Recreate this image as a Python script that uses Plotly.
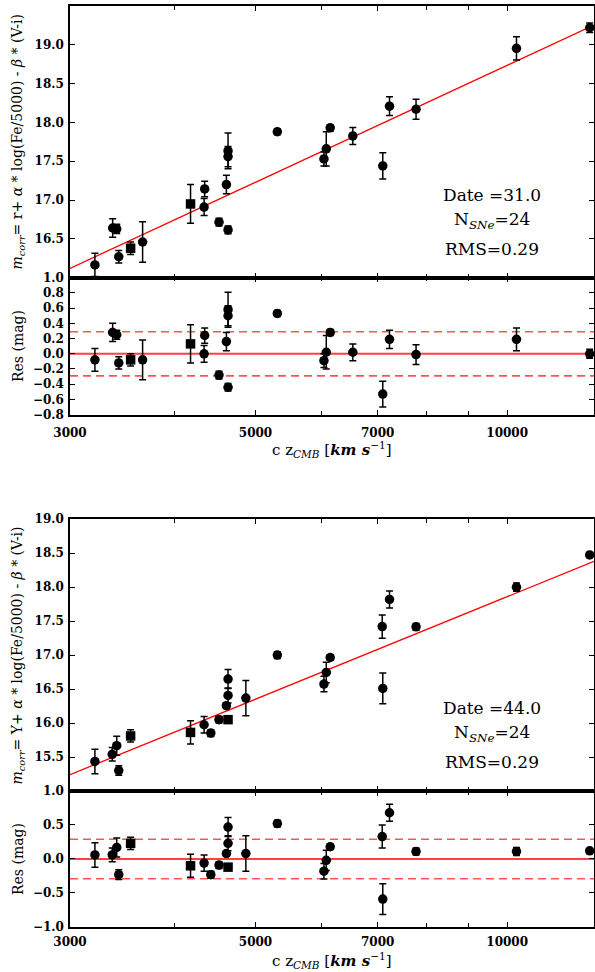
import numpy as np
import plotly.graph_objects as go

# ---------------- data ----------------
top_cz = [3213, 3374, 3412, 3431, 3545, 3664, 4181, 4340, 4347, 4522, 4615, 4636,
          4636, 4636, 5310, 6037, 6076, 6142, 6537, 7099, 7232, 7780, 10259, 12550]
top_m = [16.165, 16.64, 16.63, 16.27, 16.38, 16.46, 16.95, 16.91, 17.144, 16.715, 17.20, 17.633,
         17.56, 16.615, 17.88, 17.53, 17.66, 17.93, 17.826, 17.44, 18.21, 18.17, 18.955, 19.22]
top_err = [0.15, 0.12, 0.06, 0.08, 0.08, 0.26, 0.25, 0.11, 0.10, 0.05, 0.12, 0.23,
           0.13, 0.05, 0.04, 0.09, 0.22, 0.04, 0.11, 0.17, 0.12, 0.13, 0.15, 0.06]
top_res = [-0.08, 0.28, 0.25, -0.12, -0.08, -0.08, 0.13, 0.00, 0.24, -0.28, 0.16, 0.58,
           0.50, -0.44, 0.53, -0.09, 0.02, 0.28, 0.02, -0.53, 0.19, -0.01, 0.19, 0.00]
top_fit_x = [3000, 12700]
top_fit_y = [16.12, 19.255]

bot_cz = [3213, 3370, 3412, 3431, 3545, 4181, 4340, 4421, 4522, 4615, 4636, 4636,
          4636, 4869, 5310, 6037, 6076, 6142, 7088, 7099, 7232, 7780, 10259, 12550]
bot_m = [15.435, 15.54, 15.666, 15.30, 15.81, 15.862, 15.975, 15.853, 16.05, 16.255, 16.406, 16.647,
         16.05, 16.368, 17.00, 16.574, 16.745, 16.965, 17.42, 16.51, 17.82, 17.416, 18.00, 18.475]
bot_err = [0.18, 0.10, 0.14, 0.07, 0.09, 0.17, 0.12, 0.05, 0.05, 0.04, 0.11, 0.14,
           0.04, 0.26, 0.05, 0.115, 0.15, 0.04, 0.17, 0.225, 0.125, 0.05, 0.06, 0.03]
bot_res = [0.06, 0.06, 0.17, -0.23, 0.23, -0.10, -0.06, -0.23, -0.09, 0.08, 0.23, 0.47,
           -0.12, 0.08, 0.52, -0.18, -0.02, 0.18, 0.33, -0.59, 0.68, 0.11, 0.11, 0.12]
bot_fit_x = [3000, 12700]
bot_fit_y = [15.24, 18.38]

rms_band = 0.29
x_ticks = [3000, 5000, 7000, 10000]
x_minor = [4000, 6000, 8000, 9000]
top_y_ticks = [16.5, 17.0, 17.5, 18.0, 18.5, 19.0, 19.5]
top_r_ticks = [-0.8, -0.6, -0.4, -0.2, 0.0, 0.2, 0.4, 0.6, 0.8, 1.0]
bot_y_ticks = [15.5, 16.0, 16.5, 17.0, 17.5, 18.0, 18.5, 19.0]
bot_r_ticks = [-1.0, -0.5, 0.0, 0.5, 1.0]

top_text = ["Date =31.0", "N<sub><i>SNe</i></sub>=24", "RMS=0.29"]
bot_text = ["Date =44.0", "N<sub><i>SNe</i></sub>=24", "RMS=0.29"]

# ---------------- style ----------------
TOP_SQUARES = {4, 6}
BOT_SQUARES = {4, 5, 12}
FONT = "DejaVu Serif"
X_RANGE = [np.log10(3000), np.log10(12700)]


def symbols(n, sq):
    return ["square" if i in sq else "circle" for i in range(n)]


def fmt(v):
    s = f"{v:.1f}"
    return s.replace("-", "\u2212")


fig = go.Figure()


def add_panel(cz, m, err, res, fx, fy, sq, xa, ya, xr, yr):
    sym = symbols(len(cz), sq)
    fig.add_trace(go.Scatter(x=fx, y=fy, mode="lines", line=dict(color="red", width=1.3),
                             xaxis=xa, yaxis=ya, showlegend=False, hoverinfo="skip"))
    fig.add_trace(go.Scatter(x=cz, y=m, mode="markers",
                             marker=dict(color="black", size=9.5, symbol=sym),
                             error_y=dict(type="data", array=err, color="black", thickness=1.5, width=3.5),
                             xaxis=xa, yaxis=ya, showlegend=False, cliponaxis=False))
    # residual panel lines
    fig.add_trace(go.Scatter(x=fx, y=[0, 0], mode="lines", line=dict(color="rgba(255,0,0,0.75)", width=2),
                             xaxis=xr, yaxis=yr, showlegend=False, hoverinfo="skip"))
    for s in (1, -1):
        fig.add_trace(go.Scatter(x=fx, y=[s * rms_band] * 2, mode="lines",
                                 line=dict(color="rgba(255,40,40,0.8)", width=1.6, dash="8px,5px"),
                                 xaxis=xr, yaxis=yr, showlegend=False, hoverinfo="skip"))
    fig.add_trace(go.Scatter(x=cz, y=res, mode="markers",
                             marker=dict(color="black", size=9.5, symbol=sym),
                             error_y=dict(type="data", array=err, color="black", thickness=1.5, width=3.5),
                             xaxis=xr, yaxis=yr, showlegend=False, cliponaxis=False))


add_panel(top_cz, top_m, top_err, top_res, top_fit_x, top_fit_y, TOP_SQUARES, "x", "y", "x2", "y2")
add_panel(bot_cz, bot_m, bot_err, bot_res, bot_fit_x, bot_fit_y, BOT_SQUARES, "x3", "y3", "x4", "y4")

tickfont = dict(family=FONT, size=12, color="black", weight="bold")
common_axis = dict(showline=True, linecolor="black", linewidth=1.5, mirror="ticks",
                   ticks="inside", ticklen=5, tickwidth=1.3, tickcolor="black",
                   showgrid=False, zeroline=False, tickfont=tickfont, automargin=False)


def xaxis(anchor, labels, standoff=6):
    d = dict(common_axis)
    d.update(type="log", range=X_RANGE, anchor=anchor, domain=[0, 1],
             tickmode="array", tickvals=x_ticks, ticktext=[str(v) for v in x_ticks],
             showticklabels=labels, ticklabelstandoff=standoff,
             minor=dict(tickmode="array", tickvals=x_minor, ticks="inside", ticklen=4,
                        tickcolor="black", tickwidth=1.2))
    return d


def yaxis(anchor, dom, rng, ticks):
    d = dict(common_axis)
    d.update(anchor=anchor, domain=dom, range=rng, tickmode="array", tickvals=ticks,
             ticktext=[fmt(v) for v in ticks], ticklabelstandoff=2)
    return d


H_TOP = [0.705, 1.0]
H_TOPR = [0.5563, 0.705]
H_BOT = [0.1477, 0.4427]
H_BOTR = [0.0, 0.1477]

fig.update_layout(
    width=595, height=972,
    margin=dict(l=70, r=1, t=6, b=45),
    paper_bgcolor="white", plot_bgcolor="white",
    font=dict(family=FONT, color="black"),
    xaxis=xaxis("y", False),
    xaxis2=xaxis("y2", True, 6),
    xaxis3=xaxis("y3", False),
    xaxis4=xaxis("y4", True, 3),
    yaxis=yaxis("x", H_TOP, [16.0, 19.5], top_y_ticks),
    yaxis2=yaxis("x2", H_TOPR, [-0.8, 1.0], top_r_ticks),
    yaxis3=yaxis("x3", H_BOT, [15.0, 19.0], bot_y_ticks),
    yaxis4=yaxis("x4", H_BOTR, [-1.0, 1.0], bot_r_ticks),
)

ann = []
ytitle_main = "<i>m</i><sub><i>corr</i></sub>= {b}+ <i>\u03b1</i> * log(Fe/5000) - <i>\u03b2</i> * (V-i)"
for txt, yc in [(ytitle_main.format(b="r"), 0.852), ("Res (mag)", 0.631),
                (ytitle_main.format(b="Y"), 0.295), ("Res (mag)", 0.074)]:
    ann.append(dict(text=txt, xref="paper", yref="paper", x=-0.099, y=yc, textangle=-90,
                    showarrow=False, xanchor="center", yanchor="middle",
                    font=dict(family=FONT, size=14, color="black")))

xtitle = "c z<sub><i>CMB</i></sub> [<b><i>km s</i></b><sup>\u22121</sup>]"
for yc in (0.519, -0.036):
    ann.append(dict(text=xtitle, xref="paper", yref="paper", x=0.5, y=yc, showarrow=False,
                    xanchor="center", yanchor="middle", font=dict(family=FONT, size=15, color="black")))

for texts, ys in [(top_text, [0.7948, 0.7666, 0.7362]), (bot_text, [0.2374, 0.2096, 0.179])]:
    for t, yc in zip(texts, ys):
        ann.append(dict(text=t, xref="paper", yref="paper", x=0.805, y=yc, showarrow=False,
                        xanchor="center", yanchor="middle", font=dict(family=FONT, size=17, color="black")))

fig.update_layout(annotations=ann)
fig.write_html("out.html", config={"displayModeBar": False},
               post_script="document.body.style.margin='0px';document.body.style.overflow='hidden';")
